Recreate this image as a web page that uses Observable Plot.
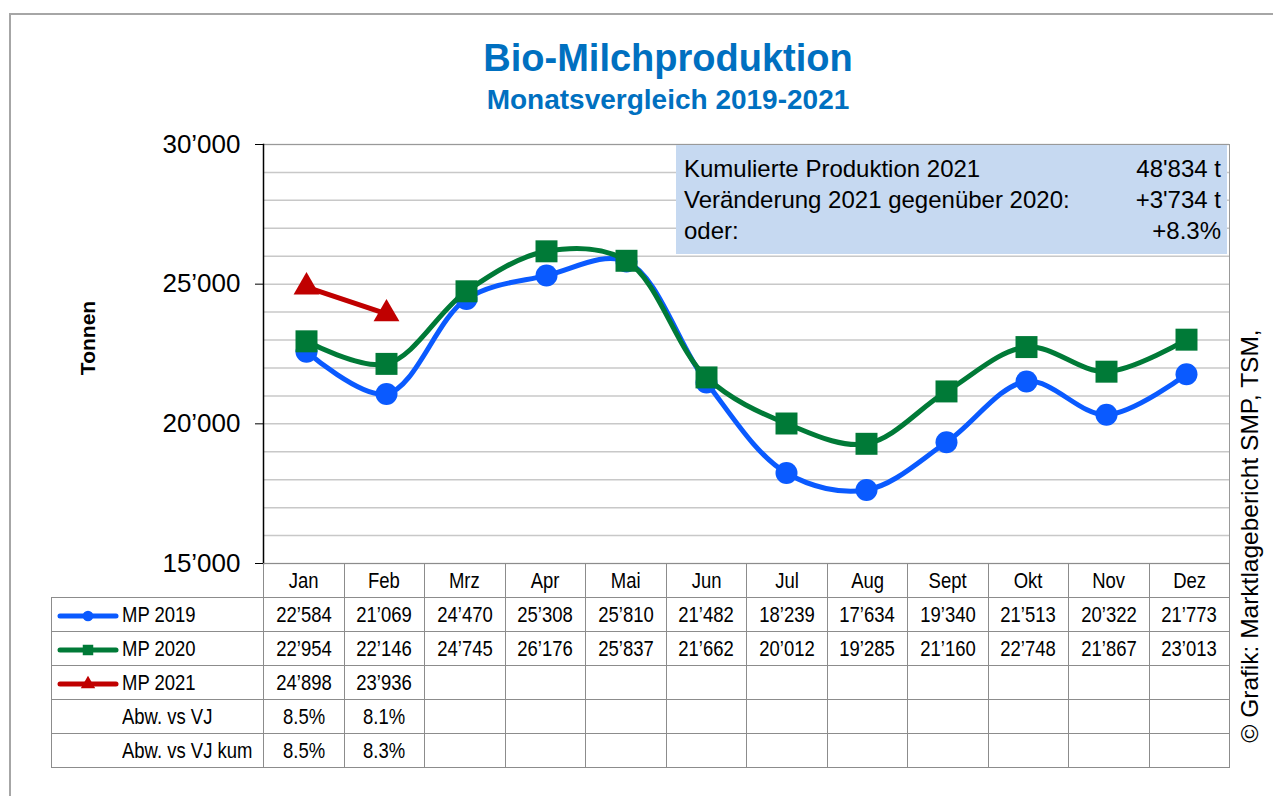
<!DOCTYPE html>
<html><head><meta charset="utf-8">
<script src="https://cdn.jsdelivr.net/npm/d3@7"></script>
<script src="https://cdn.jsdelivr.net/npm/@observablehq/plot@0.6"></script>
<style>
body{margin:0;background:#fff;}
#wrap{position:relative;width:1273px;height:796px;overflow:hidden;font-family:"Liberation Sans",Arial,sans-serif;color:#000;}
.border{position:absolute;left:9px;top:13px;width:1300px;height:800px;border-top:2px solid #A6A6A6;border-left:2px solid #A6A6A6;box-sizing:border-box;}
.title{position:absolute;left:418px;width:500px;text-align:center;color:#0070C0;font-weight:bold;white-space:nowrap;}
#t1{top:39px;font-size:38px;line-height:38px;}
#t2{top:86px;font-size:28px;line-height:28px;}
#chart{position:absolute;left:0;top:130px;}
#chart svg{overflow:visible;}
.box{position:absolute;left:676px;top:145px;width:551px;height:109px;background:#C6D9F1;box-sizing:border-box;padding:8px 6px 0 8px;font-size:24px;}
.box .row{display:flex;justify-content:space-between;height:31px;line-height:31px;white-space:nowrap;}
table.dt{position:absolute;left:51px;top:563px;border-collapse:collapse;table-layout:fixed;width:1178px;font-size:22px;}
table.dt td{border:1px solid #8C8C8C;height:33px;padding:0;text-align:center;white-space:nowrap;}
table.dt td.blank{border-top:none;border-left:none;}
table.dt td.rh{text-align:left;padding-left:5px;}
table.dt td.rh.pl{padding-left:70px;}
table.dt td.rh svg{vertical-align:middle;margin-right:3px;}
table.dt span.n{display:inline-block;transform:scaleX(0.84);}
table.dt td.rh span.n{transform-origin:left center;}
.credit{position:absolute;left:1250px;top:536px;transform:translate(-50%,-50%) rotate(-90deg);white-space:nowrap;font-size:24.5px;}
</style></head><body>
<div id="wrap">
  <div class="border"></div>
  <div class="title" id="t1">Bio-Milchproduktion</div>
  <div class="title" id="t2">Monatsvergleich 2019-2021</div>
  <div id="chart"></div>
  <div class="box" id="box"></div>
  <div class="credit" id="credit"></div>
</div>
<script>
const months = ["Jan","Feb","Mrz","Apr","Mai","Jun","Jul","Aug","Sept","Okt","Nov","Dez"];
const mp2019 = [22584,21069,24470,25308,25810,21482,18239,17634,19340,21513,20322,21773];
const mp2020 = [22954,22146,24745,26176,25837,21662,20012,19285,21160,22748,21867,23013];
const mp2021 = [24898,23936];
const abwVJ = ["8.5%","8.1%"];
const abwVJkum = ["8.5%","8.3%"];
const seriesNames = ["MP 2019","MP 2020","MP 2021"];
const seriesColors = ["#0A5AFF","#007A37","#C00000"];
const seriesSymbols = ["circle","square","triangle"];
const yTicks = [15000,20000,25000,30000];
const yGrid = [15000,16000,17000,18000,19000,20000,21000,22000,23000,24000,25000,26000,27000,28000,29000,30000];
const yLabel = "Tonnen";
const summaryLabels = ["Kumulierte Produktion 2021","Veränderung 2021 gegenüber 2020:","oder:"];
const summaryValues = ["48'834 t","+3'734 t","+8.3%"];
const credit = "© Grafik: Marktlagebericht SMP, TSM,";

const fmt = v => d3.format(",")(v).replace(/,/g, "’");
const seriesValues = [mp2019, mp2020, mp2021];
const long = [];
seriesValues.forEach((arr, i) => arr.forEach((v, j) => long.push({series: seriesNames[i], month: months[j], value: v})));

const dotR = [11, 12.4, 9.6];
const marks = [
  Plot.ruleY(yGrid, {stroke: "#C8C8C8", strokeWidth: 1.5}),
  Plot.frame({stroke: "#999"}),
  Plot.frame({anchor: "left", stroke: "#000", strokeWidth: 1.5}),
  Plot.axisY(yTicks, {tickFormat: fmt, tickSize: 8, tickPadding: 15, fontSize: 26, label: null, stroke: "#000"}),
  Plot.text([yLabel], {frameAnchor: "left", textAnchor: "middle", dx: -175, dy: -16, rotate: -90, fontWeight: "bold", fontSize: 21, text: d => d})
];
seriesNames.forEach((s, i) => {
  const d = long.filter(r => r.series === s);
  marks.push(Plot.line(d, {x: "month", y: "value", stroke: seriesColors[i], strokeWidth: 5, curve: "catmull-rom"}));
  marks.push(Plot.dot(d, {x: "month", y: "value", symbol: seriesSymbols[i], fill: seriesColors[i], r: dotR[i]}));
});

const chart = Plot.plot({
  width: 1273, height: 447,
  marginTop: 14, marginBottom: 14, marginLeft: 263, marginRight: 44,
  style: {fontFamily: "'Liberation Sans', Arial, sans-serif", fontSize: "26px", color: "#000", background: "transparent"},
  x: {type: "point", domain: months, padding: 0.5, axis: null},
  y: {domain: [15000, 30000], axis: null},
  marks
});
document.getElementById("chart").appendChild(chart);

// summary box
const box = document.getElementById("box");
summaryLabels.forEach((l, i) => {
  const r = document.createElement("div"); r.className = "row";
  const a = document.createElement("span"); a.textContent = l;
  const b = document.createElement("span"); b.textContent = summaryValues[i];
  r.append(a, b); box.appendChild(r);
});
document.getElementById("credit").textContent = credit;

// data table
const symTypes = {circle: d3.symbolCircle, square: d3.symbolSquare, triangle: d3.symbolTriangle};
const symSize = [90, 110, 90];
function swatch(i) {
  const ns = "http://www.w3.org/2000/svg";
  const svg = document.createElementNS(ns, "svg");
  svg.setAttribute("width", 62); svg.setAttribute("height", 20);
  const ln = document.createElementNS(ns, "line");
  ln.setAttribute("x1", 3); ln.setAttribute("x2", 59); ln.setAttribute("y1", 10); ln.setAttribute("y2", 10);
  ln.setAttribute("stroke", seriesColors[i]); ln.setAttribute("stroke-width", 5); ln.setAttribute("stroke-linecap", "round");
  const p = document.createElementNS(ns, "path");
  p.setAttribute("d", d3.symbol(symTypes[seriesSymbols[i]], symSize[i])());
  p.setAttribute("transform", "translate(31,10)");
  p.setAttribute("fill", seriesColors[i]);
  svg.append(ln, p);
  return svg;
}
function txt(s) { const sp = document.createElement("span"); sp.className = "n"; sp.textContent = s; return sp; }
const table = document.createElement("table"); table.className = "dt";
const cg = document.createElement("colgroup");
const c0 = document.createElement("col"); c0.style.width = "212px"; cg.appendChild(c0);
months.forEach(() => { const c = document.createElement("col"); c.style.width = "80.5px"; cg.appendChild(c); });
table.appendChild(cg);
let tr = table.insertRow();
tr.insertCell().className = "blank";
months.forEach(m => { tr.insertCell().appendChild(txt(m)); });
seriesValues.forEach((arr, i) => {
  tr = table.insertRow();
  const h = tr.insertCell(); h.className = "rh";
  h.appendChild(swatch(i)); h.appendChild(txt(seriesNames[i]));
  months.forEach((m, j) => { const c = tr.insertCell(); if (arr[j] != null) c.appendChild(txt(fmt(arr[j]))); });
});
[["Abw. vs VJ", abwVJ], ["Abw. vs VJ kum", abwVJkum]].forEach(([lab, arr]) => {
  tr = table.insertRow();
  const h = tr.insertCell(); h.className = "rh pl"; h.appendChild(txt(lab));
  months.forEach((m, j) => { const c = tr.insertCell(); if (arr[j] != null) c.appendChild(txt(arr[j])); });
});
document.getElementById("wrap").appendChild(table);
</script>
</body></html>
